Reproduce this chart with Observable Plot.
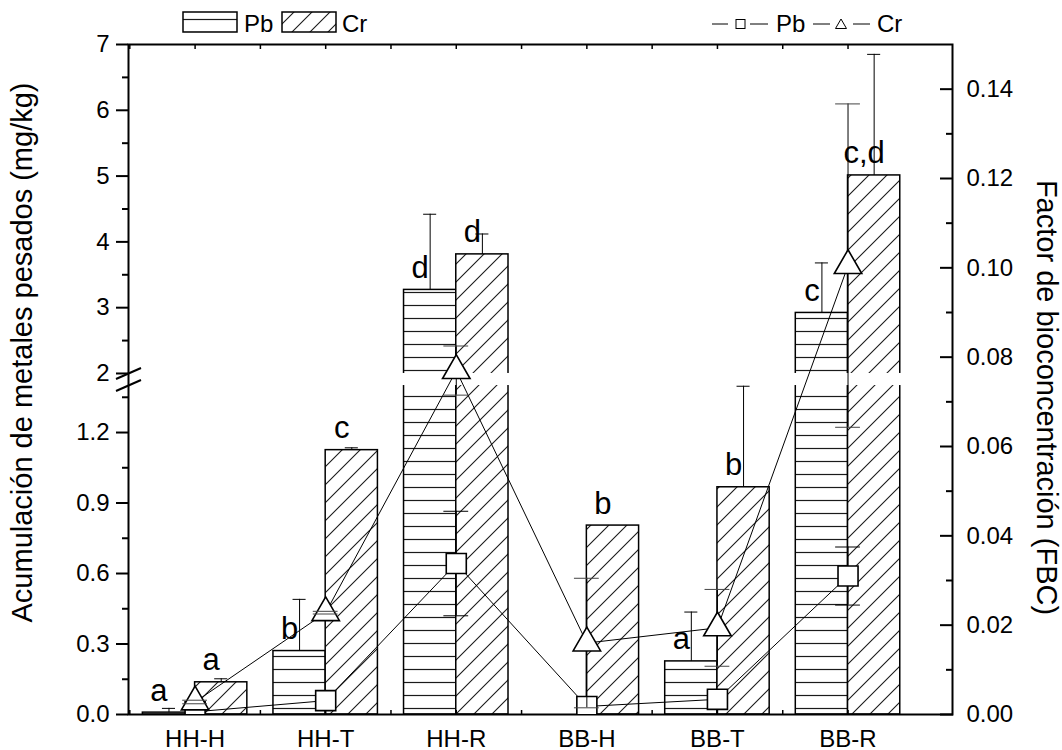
<!DOCTYPE html>
<html><head><meta charset="utf-8">
<script src="https://cdn.jsdelivr.net/npm/d3@7"></script>
<script src="https://cdn.jsdelivr.net/npm/@observablehq/plot@0.6"></script>
<style>
html,body{margin:0;padding:0;background:#fff;overflow:hidden;}
#wrap{position:relative;width:1062px;height:750px;font-family:"Liberation Sans",Arial,sans-serif;}
#wrap > svg{position:absolute;left:0;top:0;}
</style></head><body>
<svg width="0" height="0" style="position:absolute">
<defs>
<pattern id="hatchPb" patternUnits="userSpaceOnUse" width="13" height="13">
<rect width="13" height="13" fill="white"/>
<line x1="0" y1="6.5" x2="13" y2="6.5" stroke="#1a1a1a" stroke-width="1.2"/>
</pattern>
<pattern id="hatchCr" patternUnits="userSpaceOnUse" width="18" height="18">
<rect width="18" height="18" fill="white"/>
<path d="M0,18L18,0M-3,3L3,-3M15,21L21,15" stroke="#1a1a1a" stroke-width="1.1"/>
</pattern>
</defs></svg>
<div id="wrap"></div>
<script>
// ---------- data ----------
const categories = ["HH-H", "HH-T", "HH-R", "BB-H", "BB-T", "BB-R"];
// heavy-metal accumulation (mg/kg), left axis
const pbConc    = [0.008, 0.27, 3.27, 0, 0.226, 2.92];
const pbConcErr = [0.018, 0.22, 1.15, 0, 0.21, 0.76];
const crConc    = [0.137, 1.125, 3.81, 0.804, 0.967, 5.01];
const crConcErr = [0.015, 0.01, 0.31, 0, 0.43, 1.84];
const pbLetters = ["a", "b", "d", "", "a", "c"];
const crLetters = ["a", "c", "d", "b", "b", "c,d"];
// bioconcentration factor (FBC), right axis
const pbFBC    = [0.0006, 0.0031, 0.0338, 0.0018, 0.0034, 0.031];
const pbFBCErr = [0, 0, 0.0117, 0, 0, 0.0065];
const crFBC    = [0.0028, 0.0228, 0.077, 0.016, 0.0194, 0.1005];
const crFBCErr = [0.0004, 0.0003, 0.0055, 0.0145, 0.0086, 0.0362];
// axis ticks
const yTicksMajor = [0, 0.3, 0.6, 0.9, 1.2, 2, 3, 4, 5, 6, 7];
const yTicksMinor = [0.15, 0.45, 0.75, 1.05, 1.35, 2.5, 3.5, 4.5, 5.5, 6.5];
const fbcTicksMajor = [0, 0.02, 0.04, 0.06, 0.08, 0.10, 0.12, 0.14];
const fbcTicksMinor = [0.01, 0.03, 0.05, 0.07, 0.09, 0.11, 0.13];
const yBreak = [1.4, 2];
const yMax = 7, fbcMax = 0.15;
const leftTitle = "Acumulación de metales pesados (mg/kg)";
const rightTitle = "Factor de bioconcentración (FBC)";

// ---------- layout ----------
const W = 1062, H = 750, mL = 128, mR = 110, mT = 44, mB = 36;
const xDomain = [0.49, 6.8];
const yBottom = H - mB, yTop = mT, plotH = yBottom - yTop;
const segFrac = 0.491;
const yRange = [yBottom, yBottom - segFrac * plotH, yTop + segFrac * plotH, yTop];
const font = '"Liberation Sans", Arial, sans-serif';
const tickFont = 24;

const bars = categories.flatMap((c, k) => {
  const i = k + 1;
  return [
    {metal: "Pb", x1: i - 0.4, x2: i, xc: i - 0.2, v: pbConc[k], e: pbConcErr[k], lab: pbLetters[k]},
    {metal: "Cr", x1: i, x2: i + 0.4, xc: i + 0.2, v: crConc[k], e: crConcErr[k], lab: crLetters[k]}
  ];
});
const pbBars = bars.filter(d => d.metal === "Pb" && d.v > 0);
const crBars = bars.filter(d => d.metal === "Cr" && d.v > 0);
const errBars = bars.filter(d => d.e > 0);
const labBars = bars.filter(d => d.lab);

const fmtY = v => v >= 2 ? String(v) : v.toFixed(1);
const halfTicks = d3.range(1, 13).map(k => k * 0.5).filter(v => v < xDomain[1]);

const slash = {draw(ctx) { ctx.moveTo(-12.5, 5.5); ctx.lineTo(12.5, -5.5); }};

const plot1 = Plot.plot({
  width: W, height: H, marginLeft: mL, marginRight: mR, marginTop: mT, marginBottom: mB,
  style: {fontFamily: font, background: "white", overflow: "visible"},
  x: {type: "linear", domain: xDomain},
  y: {type: "linear", domain: [0, yBreak[0], yBreak[1], yMax], range: yRange},
  marks: [
    Plot.rect(pbBars, {x1: "x1", x2: "x2", y1: 0, y2: "v", fill: "url(#hatchPb)", stroke: "black", strokeWidth: 1.5}),
    Plot.rect(crBars, {x1: "x1", x2: "x2", y1: 0, y2: "v", fill: "url(#hatchCr)", stroke: "black", strokeWidth: 1.5}),
    Plot.ruleX(errBars, {x: "xc", y1: "v", y2: d => d.v + d.e, stroke: "black", strokeWidth: 1}),
    Plot.ruleY(errBars, {y: d => d.v + d.e, x1: d => d.xc - 0.05, x2: d => d.xc + 0.05, stroke: "black", strokeWidth: 1}),
    Plot.rect([yBreak], {x1: xDomain[0], x2: xDomain[1], y1: d => d[0], y2: d => d[1], fill: "white"}),
    Plot.text(labBars, {x: "xc", y: "v", text: "lab", dx: -10, dy: -12, lineAnchor: "bottom", fontSize: 31, fill: "black"}),
    Plot.frame({stroke: "black", strokeWidth: 2}),
    Plot.axisY(yTicksMajor, {anchor: "left", tickSize: 12, tickPadding: 7, tickFormat: fmtY, fontSize: tickFont, label: null, strokeWidth: 2}),
    Plot.axisY(yTicksMinor, {anchor: "left", tickSize: 6, tickFormat: () => "", label: null, strokeWidth: 2}),
    Plot.axisX([1, 2, 3, 4, 5, 6], {anchor: "bottom", tickSize: 0, tickPadding: 15, tickFormat: i => categories[i - 1], fontSize: tickFont, label: null}),
    Plot.axisX(halfTicks, {anchor: "bottom", tickSize: -4, tickFormat: () => "", label: null, strokeWidth: 1.5}),
    Plot.axisX(halfTicks, {anchor: "top", tickSize: -4, tickFormat: () => "", label: null, strokeWidth: 1.5}),
    Plot.dot(yBreak, {x: xDomain[0], y: d => d, symbol: slash, stroke: "black", strokeWidth: 2, fill: "none"}),
    Plot.text([leftTitle], {frameAnchor: "left", textAnchor: "middle", rotate: -90, dx: -106, dy: -27, fontSize: 29, fill: "black"})
  ]
});

const pbSeries = categories.map((c, k) => ({i: k + 1, v: pbFBC[k], e: pbFBCErr[k]}));
const crSeries = categories.map((c, k) => ({i: k + 1, v: crFBC[k], e: crFBCErr[k]}));
const pbErr = pbSeries.filter(d => d.e > 0);
const crErr = crSeries.filter(d => d.e > 0);
const capW = 0.095;
const caps = s => s.flatMap(d => [{i: d.i, y: d.v + d.e}, {i: d.i, y: d.v - d.e}]);

const plot2 = Plot.plot({
  width: W, height: H, marginLeft: mL, marginRight: mR, marginTop: mT, marginBottom: mB,
  style: {fontFamily: font, background: "transparent", overflow: "visible"},
  x: {type: "linear", domain: xDomain, axis: null},
  y: {type: "linear", domain: [0, fbcMax]},
  marks: [
    Plot.line(pbSeries, {x: "i", y: "v", stroke: "black", strokeWidth: 1}),
    Plot.ruleX(pbErr, {x: "i", y1: d => d.v - d.e, y2: d => d.v + d.e, stroke: "black", strokeWidth: 1}),
    Plot.dot(pbSeries, {x: "i", y: "v", symbol: "square", r: 11.3, fill: "white", stroke: "black", strokeWidth: 1.6, clip: true}),
    Plot.ruleY(caps(pbErr), {y: "y", x1: d => d.i - capW, x2: d => d.i + capW, stroke: "black", strokeWidth: 1}),
    Plot.line(crSeries, {x: "i", y: "v", stroke: "black", strokeWidth: 1}),
    Plot.ruleX(crErr, {x: "i", y1: d => Math.max(0, d.v - d.e), y2: d => d.v + d.e, stroke: "black", strokeWidth: 1}),
    Plot.dot(crSeries, {x: "i", y: "v", symbol: "triangle", r: 10.2, fill: "white", stroke: "black", strokeWidth: 1.6, clip: true}),
    Plot.ruleY(caps(crErr), {y: "y", x1: d => d.i - capW, x2: d => d.i + capW, stroke: "#444", strokeWidth: 1}),
    Plot.axisY(fbcTicksMajor, {anchor: "right", tickSize: -13, tickFormat: () => "", label: null, strokeWidth: 2}),
    Plot.axisY(fbcTicksMinor, {anchor: "right", tickSize: -7, tickFormat: () => "", label: null, strokeWidth: 2}),
    Plot.axisY(fbcTicksMajor, {anchor: "right", tickSize: 0, tickPadding: 14, tickFormat: d3.format(".2f"), fontSize: tickFont, label: null}),
    Plot.text([rightTitle], {frameAnchor: "right", textAnchor: "middle", rotate: 90, dx: 94, dy: 18, fontSize: 29, fill: "black"})
  ]
});

const wrap = document.getElementById("wrap");
wrap.appendChild(plot1);
wrap.appendChild(plot2);

// legends (above the plot area)
const legend = `
<svg width="${W}" height="40" style="position:absolute;left:0;top:0;overflow:visible" font-family='${font}' font-size="24">
  <rect x="183" y="12" width="54" height="20" fill="url(#hatchPb)" stroke="black" stroke-width="1.5"/>
  <text x="244" y="32">Pb</text>
  <rect x="282" y="12" width="54" height="20" fill="url(#hatchCr)" stroke="black" stroke-width="1.5"/>
  <text x="342" y="32">Cr</text>
  <line x1="712" y1="24" x2="728" y2="24" stroke="black"/>
  <rect x="736" y="19.5" width="9" height="9" fill="white" stroke="black"/>
  <line x1="750" y1="24" x2="768" y2="24" stroke="black"/>
  <text x="776" y="32">Pb</text>
  <line x1="813" y1="24" x2="830" y2="24" stroke="black"/>
  <path d="M841,19 L846.5,28.5 L835.5,28.5 Z" fill="white" stroke="black"/>
  <line x1="853" y1="24" x2="870" y2="24" stroke="black"/>
  <text x="877" y="32">Cr</text>
</svg>`;
wrap.insertAdjacentHTML("beforeend", legend);
</script>
</body></html>
